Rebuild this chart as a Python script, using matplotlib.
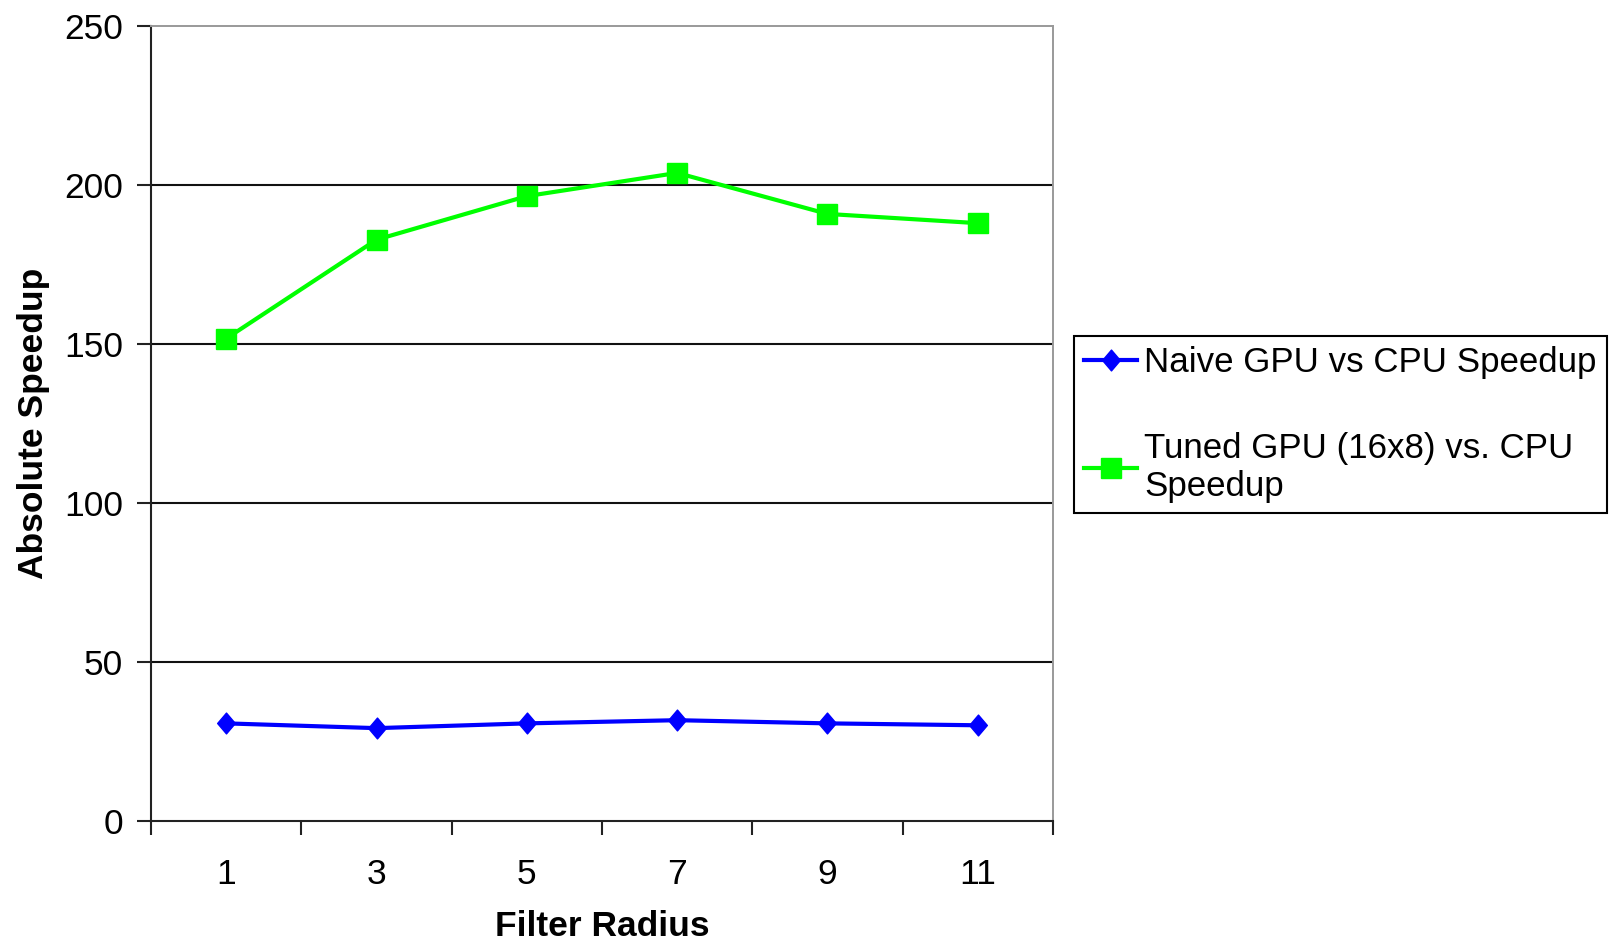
import matplotlib
matplotlib.use("Agg")
import matplotlib.pyplot as plt
from matplotlib.path import Path

categories = ["1", "3", "5", "7", "9", "11"]
naive = [30.7, 29.2, 30.7, 31.7, 30.7, 30.1]
tuned = [151.7, 182.8, 196.5, 203.8, 190.9, 188.0]
naive_label = "Naive GPU vs CPU Speedup"
tuned_label = "Tuned GPU (16x8) vs. CPU\nSpeedup"
yticks = [0, 50, 100, 150, 200, 250]

plt.rcParams['font.family'] = ['Liberation Sans', 'DejaVu Sans']

W, H = 1613, 944
fig = plt.figure(figsize=(W / 100, H / 100), dpi=100)
ax = fig.add_axes([151 / W, 1 - 821 / H, (1053 - 151) / W, (821 - 26) / H])

x = list(range(len(categories)))
diamond = Path([(0, 1), (0.85, 0), (0, -1), (-0.85, 0), (0, 1)],
               [Path.MOVETO, Path.LINETO, Path.LINETO, Path.LINETO, Path.CLOSEPOLY])

ax.plot(x, naive, color='#0000ff', lw=3, marker=diamond, ms=15,
        label=naive_label, zorder=3)
ax.plot(x, tuned, color='#00ff00', lw=3, marker='s', ms=14,
        label=tuned_label, zorder=3)

FS = 25.5
ax.set_xlim(-0.5, len(categories) - 0.5)
ax.set_ylim(0, 250)
ax.set_yticks(yticks)
ax.set_yticklabels([str(v) for v in yticks], fontsize=FS)
ax.set_xticks(x)
ax.set_xticklabels(categories, fontsize=FS)
ax.tick_params(axis='x', which='major', length=0, pad=27)
ax.set_xticks([i - 0.5 for i in range(len(categories) + 1)], minor=True)
ax.tick_params(axis='x', which='minor', length=10, width=1.5, direction='out', color='#222222')
ax.tick_params(axis='y', length=10, width=1.5, direction='out', color='#222222', pad=10)

for v in yticks[1:-1]:
    ax.axhline(v, color='#111111', lw=1.5, zorder=1)

ax.spines['left'].set_color('#222222')
ax.spines['left'].set_linewidth(1.5)
ax.spines['bottom'].set_color('#222222')
ax.spines['bottom'].set_linewidth(1.5)
ax.spines['top'].set_color('#999999')
ax.spines['top'].set_linewidth(1.4)
ax.spines['right'].set_color('#999999')
ax.spines['right'].set_linewidth(1.4)

ax.set_ylabel("Absolute Speedup", fontsize=25.5, fontweight='bold')
ax.set_xlabel("Filter Radius", fontsize=FS, fontweight='bold', labelpad=13)
ax.yaxis.set_label_coords((50 - 151) / (1053 - 151), 0.5)

leg = fig.legend(loc='upper left', bbox_to_anchor=(1074 / W, 1 - 336 / H),
                 fontsize=25.1, frameon=True, fancybox=False, framealpha=1,
                 edgecolor='black', handlelength=1.5, handletextpad=0.22,
                 borderpad=0.3, labelspacing=1.5, borderaxespad=0)
leg.get_frame().set_linewidth(1.5)

fig.savefig("out.png", dpi=100)
